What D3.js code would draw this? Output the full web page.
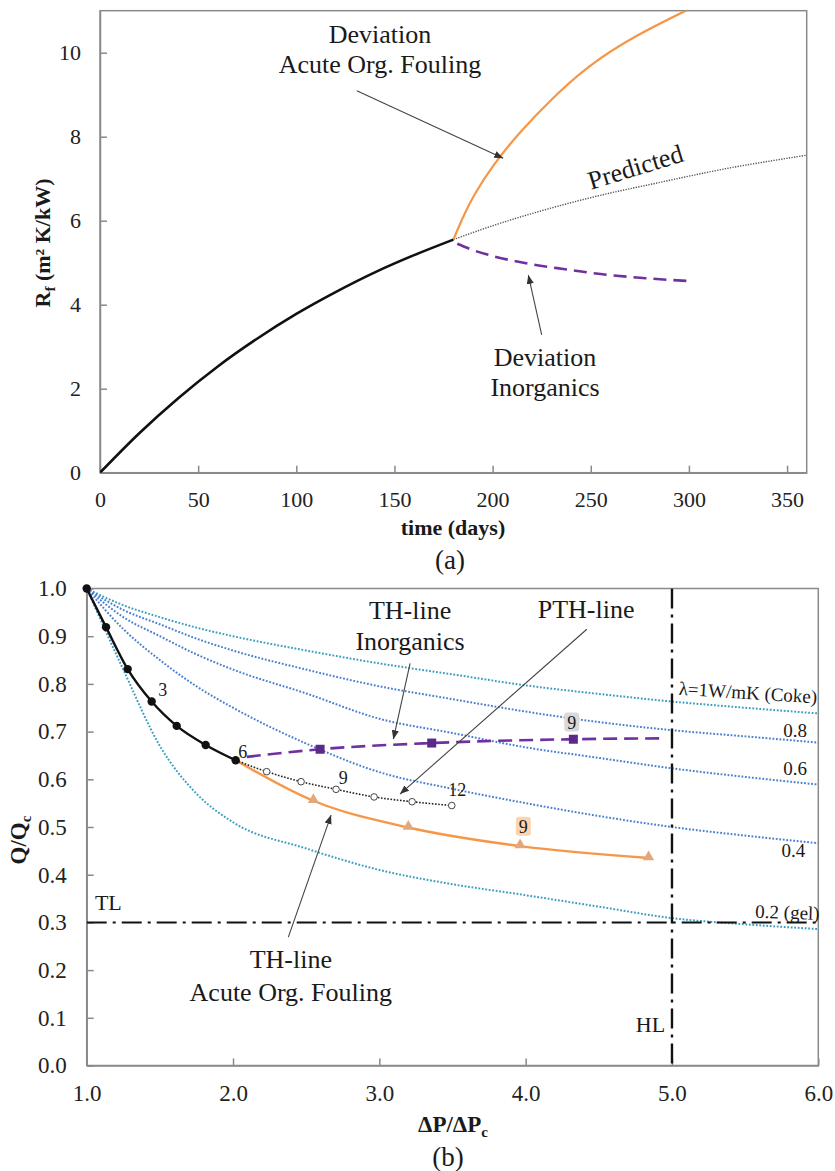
<!DOCTYPE html>
<html>
<head>
<meta charset="utf-8">
<script src="https://cdn.jsdelivr.net/npm/d3@7"></script>
<style>
body { margin: 0; background: #fff; }
svg { display: block; font-family: "Liberation Serif", "Times New Roman", serif; }
</style>
</head>
<body>
<svg id="chart" width="835" height="1171"></svg>
<script>
// ---- panel (a) data: fouling resistance vs time ----
const daysBase = [0, 20, 40, 60, 80, 100, 120, 140, 160, 180];
const rfBase = [0, 0.94, 1.78, 2.53, 3.19, 3.78, 4.30, 4.77, 5.18, 5.55];
const daysPred = [180, 200, 220, 240, 260, 280, 300, 320, 340, 360];
const rfPred = [5.55, 5.88, 6.17, 6.43, 6.66, 6.86, 7.06, 7.25, 7.41, 7.56];
const daysOrg = [180, 185, 190, 200, 214, 230, 248, 272, 305];
const rfOrg = [5.55, 6.1, 6.58, 7.32, 8.12, 8.9, 9.67, 10.4, 11.15];
const daysInorg = [182, 190, 200, 218, 236, 255, 278, 301];
const rfInorg = [5.45, 5.3, 5.16, 4.98, 4.85, 4.73, 4.63, 4.56];
const ticksDays = [0, 50, 100, 150, 200, 250, 300, 350];
const ticksRf = [0, 2, 4, 6, 8, 10];

// ---- panel (b) data: Q/Qc vs dP/dPc ----
const dpGrid = [1, 1.25, 1.5, 1.75, 2, 2.5, 3, 3.5, 4, 4.5, 5, 5.5, 6];
const qLam1 = [1, 0.965, 0.94, 0.918, 0.9, 0.87, 0.843, 0.82, 0.797, 0.779, 0.763, 0.75, 0.738];
const qLam08 = [1, 0.955, 0.925, 0.895, 0.87, 0.83, 0.795, 0.768, 0.742, 0.72, 0.703, 0.69, 0.677];
const qLam06 = [1, 0.94, 0.9, 0.862, 0.83, 0.78, 0.727, 0.697, 0.667, 0.645, 0.623, 0.605, 0.589];
const qLam04 = [1, 0.915, 0.85, 0.795, 0.75, 0.675, 0.615, 0.58, 0.55, 0.523, 0.5, 0.482, 0.466];
const qLam02 = [1, 0.83, 0.67, 0.57, 0.51, 0.455, 0.41, 0.38, 0.357, 0.333, 0.309, 0.296, 0.286];

const dpTH = [1.0, 1.132, 1.28, 1.444, 1.615, 1.813, 2.018];
const qTH = [1.0, 0.919, 0.831, 0.763, 0.712, 0.672, 0.640];
const dpPTH = [2.018, 2.23, 2.465, 2.704, 2.964, 3.224, 3.495];
const qPTH = [0.640, 0.616, 0.595, 0.579, 0.563, 0.553, 0.545];
const dpOrgB = [2.018, 2.549, 3.198, 3.962, 4.84];
const qOrgB = [0.640, 0.555, 0.499, 0.460, 0.435];
const dpInorgB = [2.094, 2.595, 3.358, 4.326, 4.96];
const qInorgB = [0.647, 0.663, 0.676, 0.684, 0.686];
const thermalLimit = 0.3;
const hydraulicLimit = 5.0;
const ticksDp = [1, 2, 3, 4, 5, 6];
const ticksQ = d3.range(0, 11).map(d => d / 10);

const orange = "#f79646", purple = "#7030a0", teal = "#3a9fbf", blue = "#4a7fcf", axisGrey = "#8a8a8a";

const svg = d3.select("#chart");
svg.append("rect").attr("width", 835).attr("height", 1171).attr("fill", "#fff");

svg.append("defs").append("marker")
    .attr("id", "arrow")
    .attr("viewBox", "0 0 10 10")
    .attr("refX", 10).attr("refY", 5)
    .attr("markerWidth", 9).attr("markerHeight", 9)
    .attr("markerUnits", "userSpaceOnUse")
    .attr("orient", "auto")
  .append("path")
    .attr("d", "M0,1 L10,5 L0,9 z")
    .attr("fill", "#333");

function styleAxis(g, size) {
  g.attr("font-family", "Liberation Serif, Times New Roman, serif").attr("font-size", size);
  g.selectAll(".domain").attr("stroke", axisGrey).attr("stroke-width", 1.5);
  g.selectAll(".tick line").attr("stroke", axisGrey).attr("stroke-width", 1.5);
  g.selectAll(".tick text").attr("fill", "#222");
}

function arrow(x1, y1, x2, y2) {
  svg.append("line")
    .attr("x1", x1).attr("y1", y1).attr("x2", x2).attr("y2", y2)
    .attr("stroke", "#444").attr("stroke-width", 1.1)
    .attr("marker-end", "url(#arrow)");
}

function label(x, y, txt, size, anchor) {
  return svg.append("text")
    .attr("x", x).attr("y", y)
    .attr("font-size", size)
    .attr("text-anchor", anchor || "middle")
    .attr("fill", "#1a1a1a")
    .text(txt);
}

// =================== panel (a) ===================
const xA = d3.scaleLinear().domain([0, 360]).range([100, 806.7]);
const yA = d3.scaleLinear().domain([0, 11]).range([472.7, 10.7]);

svg.append("clipPath").attr("id", "clipA").append("rect")
  .attr("x", xA(0)).attr("y", yA(11)).attr("width", xA(360) - xA(0)).attr("height", yA(0) - yA(11));

svg.append("rect")
  .attr("x", xA(0)).attr("y", yA(11))
  .attr("width", xA(360) - xA(0)).attr("height", yA(0) - yA(11))
  .attr("fill", "none").attr("stroke", axisGrey).attr("stroke-width", 1.5);

svg.append("g").attr("transform", `translate(0,${yA(0)})`)
  .call(d3.axisBottom(xA).tickValues(ticksDays).tickSizeInner(-7).tickSizeOuter(0).tickPadding(19))
  .call(g => styleAxis(g, 22));
svg.append("g").attr("transform", `translate(${xA(0)},0)`)
  .call(d3.axisLeft(yA).tickValues(ticksRf).tickSizeInner(-7).tickSizeOuter(0).tickPadding(19))
  .call(g => styleAxis(g, 22));

const lineA = d3.line().x(d => xA(d[0])).y(d => yA(d[1])).curve(d3.curveMonotoneX);
const smoothA = d3.line().x(d => xA(d[0])).y(d => yA(d[1])).curve(d3.curveBasis);
const plotA = svg.append("g").attr("clip-path", "url(#clipA)");

plotA.append("path").datum(d3.zip(daysPred, rfPred)).attr("d", lineA)
  .attr("fill", "none").attr("stroke", "#555").attr("stroke-width", 1.4).attr("stroke-dasharray", "1.3,1.3");
plotA.append("path").datum(d3.zip(daysOrg, rfOrg)).attr("d", smoothA)
  .attr("fill", "none").attr("stroke", orange).attr("stroke-width", 2.2);
plotA.append("path").datum(d3.zip(daysInorg, rfInorg)).attr("d", lineA)
  .attr("fill", "none").attr("stroke", purple).attr("stroke-width", 2.6).attr("stroke-dasharray", "13,7");
plotA.append("path").datum(d3.zip(daysBase, rfBase)).attr("d", lineA)
  .attr("fill", "none").attr("stroke", "#111").attr("stroke-width", 2.6);

// annotations (a)
label(xA(142.6), yA(10.23), "Deviation", 26);
label(xA(142.6), yA(9.52), "Acute Org. Fouling", 26);
arrow(xA(130.8), yA(9.095), xA(205.4), yA(7.486));
svg.append("text")
  .attr("transform", `translate(${xA(274)},${yA(7.08)}) rotate(-17)`)
  .attr("text-anchor", "middle").attr("font-size", 26).attr("fill", "#1a1a1a")
  .text("Predicted");
label(xA(226.7), yA(2.54), "Deviation", 26);
label(xA(226.7), yA(1.83), "Inorganics", 26);
arrow(xA(225.0), yA(3.279), xA(218.2), yA(4.707));

const yLabA = svg.append("text")
  .attr("transform", "translate(50,243) rotate(-90)")
  .attr("text-anchor", "middle").attr("font-size", 22).attr("font-weight", "bold").attr("fill", "#1a1a1a");
yLabA.append("tspan").text("R");
yLabA.append("tspan").attr("dy", 5).attr("font-size", 15).text("f");
yLabA.append("tspan").attr("dy", -5).text(" (m² K/kW)");

svg.append("text").attr("x", 453).attr("y", 535).attr("text-anchor", "middle")
  .attr("font-size", 22).attr("font-weight", "bold").attr("fill", "#1a1a1a").text("time (days)");
label(450, 569, "(a)", 27);

// =================== panel (b) ===================
const xB = d3.scaleLinear().domain([1, 6]).range([86.7, 818.3]);
const yB = d3.scaleLinear().domain([0, 1]).range([1065.5, 588.5]);

svg.append("rect")
  .attr("x", xB(1)).attr("y", yB(1))
  .attr("width", xB(6) - xB(1)).attr("height", yB(0) - yB(1))
  .attr("fill", "none").attr("stroke", axisGrey).attr("stroke-width", 1.5);

svg.append("g").attr("transform", `translate(0,${yB(0)})`)
  .call(d3.axisBottom(xB).tickValues(ticksDp).tickFormat(d3.format(".1f")).tickSizeInner(-7).tickSizeOuter(0).tickPadding(19))
  .call(g => styleAxis(g, 23));
svg.append("g").attr("transform", `translate(${xB(1)},0)`)
  .call(d3.axisLeft(yB).tickValues(ticksQ).tickFormat(d3.format(".1f")).tickSizeInner(-7).tickSizeOuter(0).tickPadding(20))
  .call(g => styleAxis(g, 23));

const lineB = d3.line().x(d => xB(d[0])).y(d => yB(d[1])).curve(d3.curveMonotoneX);
const lamSeries = [qLam1, qLam08, qLam06, qLam04, qLam02];
const lamColors = [teal, blue, blue, blue, teal];

svg.append("clipPath").attr("id", "clipB").append("rect")
  .attr("x", xB(1)).attr("y", yB(1)).attr("width", xB(6) - xB(1)).attr("height", yB(0) - yB(1));
const plotB = svg.append("g").attr("clip-path", "url(#clipB)");

lamSeries.forEach((q, i) => {
  plotB.append("path").datum(d3.zip(dpGrid, q)).attr("d", lineB)
    .attr("fill", "none").attr("stroke", lamColors[i]).attr("stroke-width", 2)
    .attr("stroke-dasharray", "1.8,1.7");
});

// limits
plotB.append("line")
  .attr("x1", xB(1)).attr("x2", xB(6)).attr("y1", yB(thermalLimit)).attr("y2", yB(thermalLimit))
  .attr("stroke", "#111").attr("stroke-width", 2).attr("stroke-dasharray", "20,6,3,6");
plotB.append("line")
  .attr("x1", xB(hydraulicLimit)).attr("x2", xB(hydraulicLimit)).attr("y1", yB(1)).attr("y2", yB(0))
  .attr("stroke", "#111").attr("stroke-width", 2.4).attr("stroke-dasharray", "20,6,3,6");

// TH / PTH lines
plotB.append("path").datum(d3.zip(dpOrgB, qOrgB)).attr("d", lineB)
  .attr("fill", "none").attr("stroke", orange).attr("stroke-width", 2.4);
plotB.append("path").datum(d3.zip(dpInorgB, qInorgB)).attr("d", lineB)
  .attr("fill", "none").attr("stroke", purple).attr("stroke-width", 2.6).attr("stroke-dasharray", "14,7");
plotB.append("path").datum(d3.zip(dpPTH, qPTH)).attr("d", lineB)
  .attr("fill", "none").attr("stroke", "#222").attr("stroke-width", 1.6).attr("stroke-dasharray", "1.6,1.6");
plotB.append("path").datum(d3.zip(dpTH, qTH)).attr("d", lineB)
  .attr("fill", "none").attr("stroke", "#111").attr("stroke-width", 2.4);

// markers
const pts = (xs, ys, from) => d3.zip(xs, ys).slice(from);
svg.append("g").selectAll("circle").data(pts(dpTH, qTH, 0)).join("circle")
  .attr("cx", d => xB(d[0])).attr("cy", d => yB(d[1])).attr("r", 4.2).attr("fill", "#111");
svg.append("g").selectAll("circle").data(pts(dpPTH, qPTH, 1)).join("circle")
  .attr("cx", d => xB(d[0])).attr("cy", d => yB(d[1])).attr("r", 3.3)
  .attr("fill", "#fff").attr("stroke", "#444").attr("stroke-width", 1);
svg.append("g").selectAll("rect").data(pts(dpInorgB, qInorgB, 1).slice(0, 3)).join("rect")
  .attr("x", d => xB(d[0]) - 4.5).attr("y", d => yB(d[1]) - 4.5).attr("width", 9).attr("height", 9)
  .attr("fill", "#5b2a88");
svg.append("g").selectAll("path").data(pts(dpOrgB, qOrgB, 1)).join("path")
  .attr("d", d3.symbol().type(d3.symbolTriangle).size(55))
  .attr("transform", d => `translate(${xB(d[0])},${yB(d[1]) - 1})`)
  .attr("fill", "#e4a77c");

// point labels
function hiLabel(dp, q, txt, bg) {
  const x = xB(dp), y = yB(q);
  if (bg) {
    svg.append("rect").attr("x", x - 7.5).attr("y", y - 10).attr("width", 15).attr("height", 19)
      .attr("rx", 3).attr("fill", bg);
  }
  svg.append("text").attr("x", x).attr("y", y + 6).attr("text-anchor", "middle")
    .attr("font-size", 18).attr("fill", "#1a1a1a").text(txt);
}
hiLabel(1.52, 0.787, "3");
hiLabel(2.066, 0.658, "6");
hiLabel(2.754, 0.602, "9");
hiLabel(3.533, 0.578, "12");
hiLabel(4.315, 0.719, "9", "#d9d9d9");
hiLabel(3.984, 0.5006, "9", "#fcd5b0");

// lambda labels
svg.append("text")
  .attr("transform", `translate(${xB(5.044)},${yB(0.777)}) rotate(3.5)`)
  .attr("font-size", 19).attr("fill", "#1a1a1a")
  .text("λ=1W/mK (Coke)");
label(xB(5.842), yB(0.689), "0.8", 19);
label(xB(5.842), yB(0.609), "0.6", 19);
label(xB(5.83), yB(0.4365), "0.4", 19);
svg.append("text")
  .attr("transform", `translate(${xB(5.568)},${yB(0.31)}) rotate(2)`)
  .attr("font-size", 19).attr("fill", "#1a1a1a")
  .text("0.2 (gel)");
label(xB(1.148), yB(0.326), "TL", 22);
label(xB(4.953), yB(0.071), "HL", 22, "end");

// annotations (b)
label(xB(3.21), yB(0.936), "TH-line", 26);
label(xB(3.21), yB(0.871), "Inorganics", 26);
arrow(xB(3.21), yB(0.843), xB(3.096), yB(0.684));
label(xB(4.413), yB(0.938), "PTH-line", 26);
arrow(xB(4.418), yB(0.9145), xB(3.141), yB(0.569));
label(xB(2.395), yB(0.204), "TH-line", 26);
label(xB(2.395), yB(0.136), "Acute Org. Fouling", 26);
arrow(xB(2.378), yB(0.269), xB(2.670), yB(0.525));

const yLabB = svg.append("text")
  .attr("transform", "translate(26,840) rotate(-90)")
  .attr("text-anchor", "middle").attr("font-size", 23).attr("font-weight", "bold").attr("fill", "#1a1a1a");
yLabB.append("tspan").text("Q/Q");
yLabB.append("tspan").attr("dy", 5).attr("font-size", 15).text("c");

const xLabB = svg.append("text").attr("x", 453).attr("y", 1132).attr("text-anchor", "middle")
  .attr("font-size", 23).attr("font-weight", "bold").attr("fill", "#1a1a1a");
xLabB.append("tspan").text("ΔP/ΔP");
xLabB.append("tspan").attr("dy", 5).attr("font-size", 15).text("c");
label(448, 1166, "(b)", 27);
</script>
</body>
</html>
